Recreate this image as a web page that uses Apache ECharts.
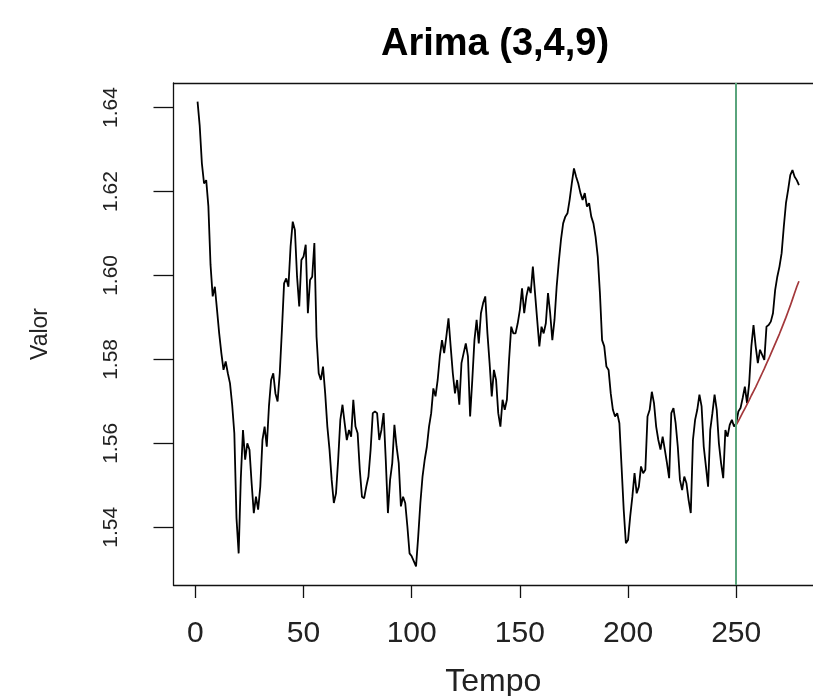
<!DOCTYPE html>
<html>
<head>
<meta charset="utf-8">
<title>Arima (3,4,9)</title>
<script src="https://cdn.jsdelivr.net/npm/echarts@6/dist/echarts.min.js"></script>
<style>
  html, body { margin: 0; padding: 0; background: #ffffff; }
  #chart { width: 813px; height: 696px; }
</style>
</head>
<body>
<div id="chart"></div>
<script>
// Observed series (Tempo = 1..N)
const valor = [
  1.6414, 1.6356, 1.6267, 1.6219, 1.6227, 1.6165, 1.6025, 1.5950, 1.5973, 1.5918,
  1.5862, 1.5815, 1.5775, 1.5795, 1.5767, 1.5743, 1.5692, 1.5624, 1.5422, 1.5338,
  1.5517, 1.5632, 1.5561, 1.5600, 1.5585, 1.5505, 1.5434, 1.5473, 1.5442, 1.5497,
  1.5608, 1.5640, 1.5592, 1.5688, 1.5751, 1.5767, 1.5719, 1.5700, 1.5767, 1.5870,
  1.5981, 1.5993, 1.5973, 1.6069, 1.6128, 1.6108, 1.5997, 1.5926, 1.6037, 1.6045,
  1.6073, 1.5910, 1.5989, 1.5997, 1.6077, 1.5854, 1.5767, 1.5751, 1.5783, 1.5719,
  1.5640, 1.5585, 1.5513, 1.5458, 1.5481, 1.5561, 1.5656, 1.5692, 1.5648, 1.5608,
  1.5632, 1.5616, 1.5704, 1.5640, 1.5624, 1.5537, 1.5473, 1.5469, 1.5497, 1.5521,
  1.5585, 1.5672, 1.5676, 1.5672, 1.5608, 1.5632, 1.5672, 1.5561, 1.5434, 1.5513,
  1.5553, 1.5644, 1.5592, 1.5553, 1.5450, 1.5473, 1.5458, 1.5402, 1.5338, 1.5331,
  1.5319, 1.5307, 1.5378, 1.5458, 1.5521, 1.5561, 1.5592, 1.5640, 1.5672, 1.5731,
  1.5712, 1.5751, 1.5807, 1.5846, 1.5815, 1.5854, 1.5898, 1.5831, 1.5767, 1.5719,
  1.5751, 1.5692, 1.5791, 1.5815, 1.5838, 1.5807, 1.5664, 1.5751, 1.5846, 1.5894,
  1.5838, 1.5910, 1.5934, 1.5950, 1.5862, 1.5791, 1.5712, 1.5775, 1.5751, 1.5672,
  1.5640, 1.5704, 1.5680, 1.5704, 1.5799, 1.5878, 1.5862, 1.5862, 1.5886, 1.5918,
  1.5969, 1.5910, 1.5950, 1.5973, 1.5958, 1.6021, 1.5958, 1.5894, 1.5831, 1.5878,
  1.5862, 1.5886, 1.5958, 1.5910, 1.5846, 1.5894, 1.5973, 1.6033, 1.6085, 1.6124,
  1.6140, 1.6148, 1.6180, 1.6219, 1.6255, 1.6235, 1.6219, 1.6196, 1.6180, 1.6196,
  1.6164, 1.6172, 1.6140, 1.6124, 1.6092, 1.6045, 1.5958, 1.5846, 1.5831, 1.5783,
  1.5775, 1.5719, 1.5680, 1.5664, 1.5672, 1.5648, 1.5545, 1.5442, 1.5362, 1.5370,
  1.5426, 1.5473, 1.5529, 1.5481, 1.5497, 1.5545, 1.5529, 1.5537, 1.5664, 1.5680,
  1.5723, 1.5696, 1.5640, 1.5608, 1.5585, 1.5616, 1.5585, 1.5553, 1.5517, 1.5672,
  1.5684, 1.5648, 1.5592, 1.5513, 1.5489, 1.5521, 1.5505, 1.5465, 1.5434, 1.5608,
  1.5656, 1.5680, 1.5716, 1.5688, 1.5592, 1.5545, 1.5497, 1.5632, 1.5672, 1.5716,
  1.5680, 1.5600, 1.5553, 1.5517, 1.5632, 1.5616, 1.5644, 1.5656, 1.5640, 1.5648,
  1.5676, 1.5684, 1.5708, 1.5735, 1.5696, 1.5743, 1.5831, 1.5882, 1.5831, 1.5791,
  1.5823, 1.5811, 1.5799, 1.5878, 1.5882, 1.5890, 1.5910, 1.5965, 1.5997, 1.6021,
  1.6053, 1.6116, 1.6172, 1.6204, 1.6239, 1.6251, 1.6235, 1.6227, 1.6215
];

// ARIMA forecast, starting at the split point
const inicioPrevisao = 250;
const previsao = [
  1.5644, 1.5653, 1.5663, 1.5673, 1.5683, 1.5693, 1.5703, 1.5714, 1.5724, 1.5734,
  1.5745, 1.5756, 1.5767, 1.5778, 1.5790, 1.5801, 1.5813, 1.5825, 1.5837, 1.5849,
  1.5861, 1.5874, 1.5887, 1.5900, 1.5914, 1.5928, 1.5943, 1.5958, 1.5973, 1.5986
];

// Axis ticks
const ticksTempo = [0, 50, 100, 150, 200, 250];
const ticksValor = [1.54, 1.56, 1.58, 1.60, 1.62, 1.64];

const serieObservada = valor.map((v, i) => [i + 1, v]);
const seriePrevista = previsao.map((v, i) => [inicioPrevisao + i, v]);

const fonte = '"Liberation Sans", Arial, sans-serif';
const xMin = -10.12, xMax = 285.5;   // plot region runs past the right edge of the canvas
const yMin = 1.52627, yMax = 1.64583;
const eixo = { color: '#111', width: 1.3 };

const chart = echarts.init(document.getElementById('chart'), null, { renderer: 'canvas' });

chart.setOption({
  animation: false,
  backgroundColor: '#ffffff',
  title: {
    text: 'Arima (3,4,9)',
    left: 490,
    top: 21,
    textAlign: 'center',
    textStyle: { fontFamily: fonte, fontSize: 38, fontWeight: 'bold', color: '#000' }
  },
  grid: {
    left: 173.5,
    top: 83,
    right: 0,
    bottom: 111,
    show: false,
    outerBoundsMode: 'none'
  },
  xAxis: [
    {
      type: 'value',
      min: xMin,
      max: xMax,
      name: 'Tempo',
      nameLocation: 'middle',
      nameGap: 81,
      nameTextStyle: { fontFamily: fonte, fontSize: 32, color: '#222' },
      axisLine: { show: true, onZero: false, lineStyle: eixo },
      splitLine: { show: false },
      axisTick: {
        show: true, inside: false, length: 13, customValues: ticksTempo,
        lineStyle: eixo
      },
      axisLabel: {
        customValues: ticksTempo, margin: 34,
        fontFamily: fonte, fontSize: 30, color: '#222'
      }
    },
    {
      // top edge of the plot box
      type: 'value',
      position: 'top',
      min: xMin,
      max: xMax,
      axisLine: { show: true, onZero: false, lineStyle: eixo },
      axisTick: { show: false },
      axisLabel: { show: false },
      splitLine: { show: false }
    }
  ],
  yAxis: {
    type: 'value',
    min: yMin,
    max: yMax,
    name: 'Valor',
    nameLocation: 'middle',
    nameGap: 121,
    nameRotate: 90,
    nameTextStyle: { fontFamily: fonte, fontSize: 23, color: '#222' },
    axisLine: { show: true, onZero: false, lineStyle: eixo },
    splitLine: { show: false },
    axisTick: {
      show: true, inside: false, length: 20, customValues: ticksValor,
      lineStyle: eixo
    },
    axisLabel: {
      customValues: ticksValor, margin: 52, rotate: 90,
      fontFamily: fonte, fontSize: 21, color: '#222',
      formatter: v => v.toFixed(2)
    }
  },
  series: [
    {
      name: 'Observado',
      type: 'line',
      data: serieObservada,
      showSymbol: false,
      lineStyle: { color: '#000', width: 1.8 },
      z: 3,
      markLine: {
        silent: true,
        symbol: 'none',
        label: { show: false },
        lineStyle: { color: '#5aa47c', width: 2, type: 'solid' },
        data: [{ xAxis: inicioPrevisao }]
      }
    },
    {
      name: 'Previsto',
      type: 'line',
      data: seriePrevista,
      showSymbol: false,
      lineStyle: { color: '#a3383b', width: 1.7 },
      z: 4
    }
  ]
});
</script>
</body>
</html>
